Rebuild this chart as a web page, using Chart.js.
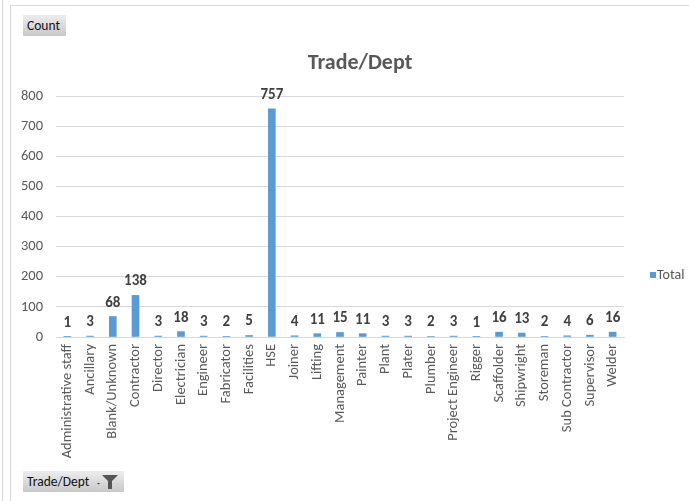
<!DOCTYPE html>
<html>
<head>
<meta charset="utf-8">
<script src="https://cdn.jsdelivr.net/npm/chart.js@4"></script>
<style>
    html, body { margin: 0; padding: 0; background: #fff; }
    #wrap { position: relative; width: 689px; height: 501px; overflow: hidden; font-family: Carlito, Lato, sans-serif; }
    #grafico { position: absolute; left: 0; top: 0; }
    .linha-v { position: absolute; top: 0; bottom: 0; width: 1px; background: #d9d9d9; }
    .linha-h { position: absolute; left: 10px; right: 0; height: 1px; background: #d9d9d9; }
    .botao {
        position: absolute; height: 21px; box-sizing: border-box;
        background: linear-gradient(#ededed, #c8c8c8);
        font-size: 13.5px; color: #111; line-height: 21px; padding-left: 4px;
    }
</style>
</head>
<body>
<div id="wrap">
    <div class="linha-v" style="left:2px"></div>
    <div class="linha-v" style="left:10px; top:5px"></div>
    <div class="linha-h" style="top:5px"></div>
    <canvas id="grafico" width="689" height="501"></canvas>
    <div class="botao" style="left:23px; top:15px; width:43px;">Count</div>
    <div class="botao" style="left:23px; top:471px; width:101px;">Trade/Dept
        <svg width="30" height="21" style="position:absolute; left:72px; top:0">
            <path d="M2 12 L5 12 L3.5 13.5 Z" fill="#333"/>
            <path d="M7 4 L23 4 L17 10 L17 18 L13 18 L13 10 Z" fill="#555"/>
        </svg>
    </div>
</div>
<script>
// Dados do gráfico
const categorias = ['Administrative staff', 'Ancillary', 'Blank/Unknown', 'Contractor', 'Director',
    'Electrician', 'Engineer', 'Fabricator', 'Facilities', 'HSE', 'Joiner', 'Lifting', 'Management',
    'Painter', 'Plant', 'Plater', 'Plumber', 'Project Engineer', 'Rigger', 'Scaffolder', 'Shipwright',
    'Storeman', 'Sub Contractor', 'Supervisor', 'Welder'];
const totais = [1, 3, 68, 138, 3, 18, 3, 2, 5, 757, 4, 11, 15, 11, 3, 3, 2, 3, 1, 16, 13, 2, 4, 6, 16];
const tituloGrafico = 'Trade/Dept';
const nomeSerie = 'Total';
const eixoYMax = 800;
const eixoYPasso = 100;

const fonte = 'Carlito, Lato, sans-serif';
const corTexto = '#595959';
const corBarra = '#5b9bd5';

/**
 * Rótulos de dados, título e legenda desenhados à mão (estilo Excel).
 */
const pluginExtras = {
    id: 'extras',
    afterDatasetsDraw(chart) {
        const ctx = chart.ctx;
        const meta = chart.getDatasetMeta(0);
        ctx.save();
        ctx.font = 'bold 15px ' + fonte;
        ctx.fillStyle = '#404040';
        ctx.textAlign = 'center';
        ctx.textBaseline = 'alphabetic';
        meta.data.forEach((barra, i) => {
            ctx.fillText(String(chart.data.datasets[0].data[i]), barra.x, barra.y - 10);
        });
        ctx.restore();
    },
    afterDraw(chart) {
        const ctx = chart.ctx;
        ctx.save();
        // título
        ctx.font = 'bold 22px ' + fonte;
        ctx.fillStyle = corTexto;
        ctx.textAlign = 'center';
        ctx.textBaseline = 'middle';
        ctx.fillText(tituloGrafico, 360, 63);
        // legenda
        const ds = chart.data.datasets[0];
        ctx.fillStyle = ds.backgroundColor;
        ctx.fillRect(650, 272, 6, 6);
        ctx.font = '14px ' + fonte;
        ctx.fillStyle = corTexto;
        ctx.textAlign = 'left';
        ctx.fillText(ds.label, 657, 275);
        ctx.restore();
    }
};

new Chart(document.getElementById('grafico'), {
    type: 'bar',
    data: {
        labels: categorias,
        datasets: [{
            label: nomeSerie,
            data: totais,
            backgroundColor: corBarra,
            barThickness: 7
        }]
    },
    options: {
        responsive: false,
        animation: false,
        devicePixelRatio: 1,
        layout: { padding: { left: 0, top: 96, right: 65, bottom: 0 } },
        plugins: {
            legend: { display: false },
            title: { display: false },
            tooltip: { enabled: false }
        },
        scales: {
            x: {
                grid: { display: false, drawTicks: false },
                border: { display: true, color: '#d9d9d9' },
                ticks: {
                    autoSkip: false, minRotation: 90, maxRotation: 90, padding: 7,
                    color: corTexto, font: { family: fonte, size: 14.5 }
                },
                afterFit(scale) { scale.height = 164; }
            },
            y: {
                min: 0, max: eixoYMax,
                grid: { color: '#d9d9d9', drawTicks: false },
                border: { display: false },
                ticks: {
                    stepSize: eixoYPasso, padding: 13,
                    color: corTexto, font: { family: fonte, size: 14.5 }
                },
                afterFit(scale) { scale.width = 56; }
            }
        }
    },
    plugins: [pluginExtras]
});
</script>
</body>
</html>
